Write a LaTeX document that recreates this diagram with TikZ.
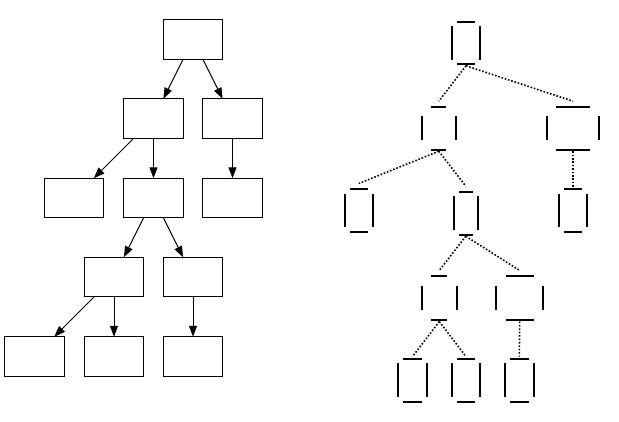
\documentclass[tikz,border=0pt]{standalone}
\usetikzlibrary{arrows.meta}
\tikzset{
  lbox/.style={draw, line width=1pt, rectangle, minimum width=59.5pt, minimum height=39.5pt, inner sep=0pt, outer sep=0pt},
  ledge/.style={line width=1pt, -{Triangle[length=11pt,width=8pt]}},
  rnode/.style 2 args={rectangle, minimum width=#1, minimum height=#2, inner sep=0pt, outer sep=0pt},
  barline/.style={line width=1.8pt},
  redge/.style={line width=1.6pt, dash pattern=on 1.6pt off 1.8pt},
}
\newcommand\rtreebars[3]{%
  \draw[barline] ([xshift=#2]#1.north west) -- ([xshift=-#2]#1.north east);
  \draw[barline] ([xshift=#2]#1.south west) -- ([xshift=-#2]#1.south east);
  \draw[barline] ([yshift=-#3]#1.north west) -- ([yshift=#3]#1.south west);
  \draw[barline] ([yshift=-#3]#1.north east) -- ([yshift=#3]#1.south east);
}
\begin{document}
\begin{tikzpicture}[x=1pt,y=-1pt]
\useasboundingbox (0,0) rectangle (619,421);
% left tree
\node[lbox] (root) at (193,39.5) {};
\node[lbox] (a) at (153.5,118.5) {};
\node[lbox] (b) at (232.5,118.5) {};
\node[lbox] (c) at (74,198) {};
\node[lbox] (d) at (153.5,198) {};
\node[lbox] (e) at (232.5,198) {};
\node[lbox] (f) at (114,277) {};
\node[lbox] (g) at (193,277) {};
\node[lbox] (h) at (34.5,356.5) {};
\node[lbox] (i) at (114,356.5) {};
\node[lbox] (j) at (193,356.5) {};
\draw[ledge] (root) -- (a);
\draw[ledge] (root) -- (b);
\draw[ledge] (a) -- (c);
\draw[ledge] (a) -- (d);
\draw[ledge] (b) -- (e);
\draw[ledge] (d) -- (f);
\draw[ledge] (d) -- (g);
\draw[ledge] (f) -- (h);
\draw[ledge] (f) -- (i);
\draw[ledge] (g) -- (j);
% right tree
\node[rnode={28pt}{42.6pt}] (rR) at (466,43) {};
\node[rnode={34.3pt}{43pt}] (rA) at (438.8,128.2) {};
\node[rnode={52.6pt}{43pt}] (rB) at (573,128.2) {};
\node[rnode={27.7pt}{43pt}] (rC) at (358.8,210.5) {};
\node[rnode={23.7pt}{43pt}] (rD) at (465.8,213.2) {};
\node[rnode={28.6pt}{43pt}] (rE) at (573,210.5) {};
\node[rnode={35.3pt}{44pt}] (rF) at (439.3,298) {};
\node[rnode={47.3pt}{44pt}] (rG) at (519.7,298) {};
\node[rnode={28.4pt}{43.3pt}] (rH) at (412.5,380.3) {};
\node[rnode={28pt}{43.3pt}] (rI) at (466,380.3) {};
\node[rnode={29.3pt}{43.3pt}] (rJ) at (519.3,380.3) {};
\rtreebars{rR}{5pt}{4.7pt}
\rtreebars{rA}{9.5pt}{9.5pt}
\rtreebars{rB}{9.5pt}{9.5pt}
\rtreebars{rC}{5pt}{4.7pt}
\rtreebars{rD}{5pt}{4.7pt}
\rtreebars{rE}{5pt}{4.7pt}
\rtreebars{rF}{9.5pt}{9.7pt}
\rtreebars{rG}{9.5pt}{9.7pt}
\rtreebars{rH}{5pt}{4.7pt}
\rtreebars{rI}{5pt}{4.7pt}
\rtreebars{rJ}{5pt}{4.7pt}
\draw[redge] ([yshift=-1.5pt]rR.south) -- ([yshift=5.5pt]rA.north);
\draw[redge] ([yshift=-1.5pt]rR.south) -- ([yshift=5.5pt]rB.north);
\draw[redge] ([yshift=-1.5pt]rA.south) -- ([yshift=5.5pt]rC.north);
\draw[redge] ([yshift=-1.5pt]rA.south) -- ([yshift=5.5pt]rD.north);
\draw[redge] ([yshift=-1.5pt]rB.south) -- ([yshift=2pt]rE.north);
\draw[redge] ([yshift=-1.5pt]rD.south) -- ([yshift=5.5pt]rF.north);
\draw[redge] ([yshift=-1.5pt]rD.south) -- ([yshift=5.5pt]rG.north);
\draw[redge] ([yshift=-1.5pt]rF.south) -- ([yshift=2pt]rH.north);
\draw[redge] ([yshift=-1.5pt]rF.south) -- ([yshift=2pt]rI.north);
\draw[redge] ([yshift=-1.5pt]rG.south) -- ([yshift=2pt]rJ.north);
\end{tikzpicture}
\end{document}
